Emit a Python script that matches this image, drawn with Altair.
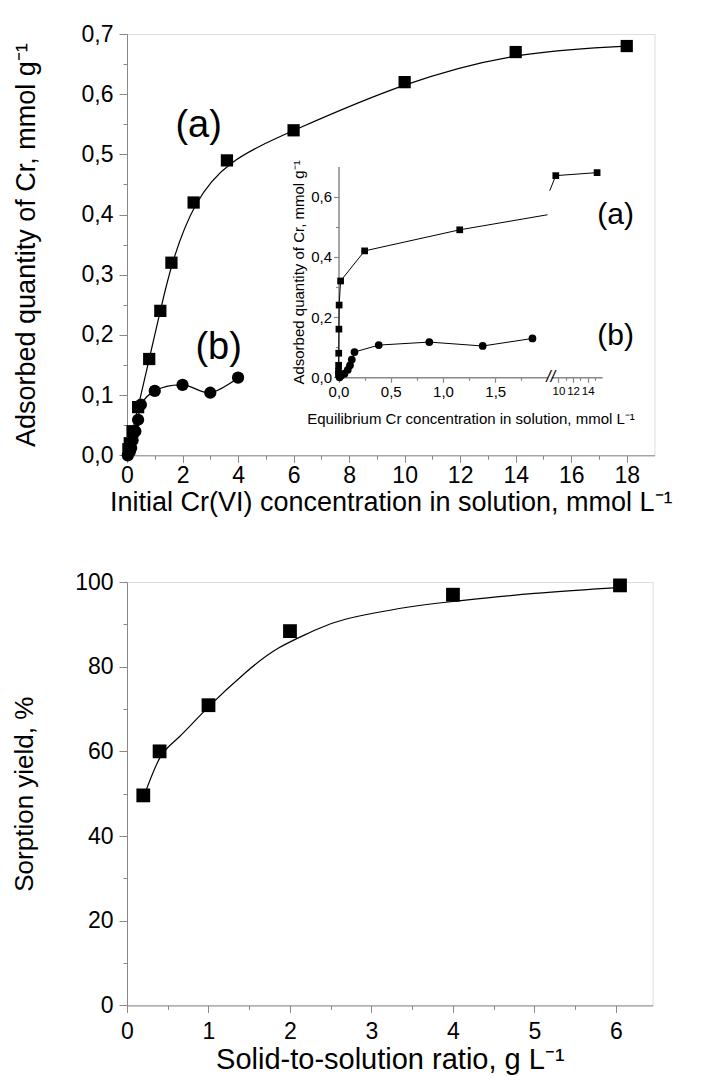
import altair as alt
import pandas as pd

FONT = "Liberation Sans"

# ---------------- Top panel: initial concentration (mmol/L) vs adsorbed quantity (mmol/g)
a_c0 = [0.05, 0.1, 0.2, 0.4, 0.8, 1.2, 1.6, 2.4, 3.6, 6.0, 10.0, 14.0, 18.0]
a_q = [0.01, 0.02, 0.04, 0.08, 0.16, 0.24, 0.32, 0.42, 0.49, 0.54, 0.62, 0.67, 0.68]
b_c0 = [0.03, 0.1, 0.15, 0.2, 0.3, 0.4, 0.5, 1.0, 2.0, 3.0, 4.0]
b_q = [0.0, 0.006, 0.012, 0.025, 0.04, 0.059, 0.084, 0.107, 0.117, 0.104, 0.129]

# ---------------- Inset: equilibrium concentration (mmol/L), same adsorbed quantities
ia_ce = [0.0, 0.0, 0.001, 0.002, 0.004, 0.006, 0.02, 0.25, 1.16, 2.0, 8.8, 9.63, 15.3]
ib_ce = [0.01, 0.025, 0.057, 0.089, 0.11, 0.127, 0.153, 0.385, 0.869, 1.38, 1.856]

# ---------------- Bottom panel: solid-to-solution ratio vs sorption yield
s_ratio = [0.2, 0.4, 1.0, 2.0, 4.0, 6.05]
s_yield = [49.6, 60.0, 70.9, 88.4, 97.0, 99.2]
fit_ratio = [0.2, 0.41, 0.64, 1.0, 1.46, 1.86, 2.27, 2.68, 3.46, 4.0, 5.0, 6.1]
fit_yield = [49.0, 58.7, 63.4, 70.5, 78.7, 84.4, 88.3, 91.2, 94.1, 95.4, 97.3, 98.8]

# ---------------- annotations
main_lbl_text = ["(a)", "(b)"]
main_lbl_x = [2.58, 3.3]
main_lbl_y = [0.547, 0.179]
inset_lbl_text = ["(a)", "(b)"]
inset_lbl_x = [17.6, 17.6]
inset_lbl_y = [0.40, 0.198]
break_text = ["//"]
break_x = [2.03]
break_y = [0.0]

# ---------------- tick values
top_x_ticks = list(range(0, 19))
top_y_ticks = [0.0, 0.05, 0.1, 0.15, 0.2, 0.25, 0.3, 0.35, 0.4, 0.45, 0.5, 0.55, 0.6, 0.65, 0.7]
inset_y_ticks = [0.0, 0.1, 0.2, 0.3, 0.4, 0.5, 0.6]
inset_x1_ticks = [0.0, 0.25, 0.5, 0.75, 1.0, 1.25, 1.5, 1.75]
inset_x2_ticks = [10, 11, 12, 13, 14, 15]
bot_x_ticks = [0.0, 0.5, 1.0, 1.5, 2.0, 2.5, 3.0, 3.5, 4.0, 4.5, 5.0, 5.5, 6.0]
bot_y_ticks = [0, 10, 20, 30, 40, 50, 60, 70, 80, 90, 100]

# ---------------- tables
df_a = pd.DataFrame({"x": a_c0, "y": a_q})
df_b = pd.DataFrame({"x": b_c0, "y": b_q})
df_ia = pd.DataFrame({"x": ia_ce, "y": a_q})
df_ib = pd.DataFrame({"x": ib_ce, "y": b_q})
df_lbl = pd.DataFrame({"x": main_lbl_x, "y": main_lbl_y, "t": main_lbl_text})
df_ilbl = pd.DataFrame({"x": inset_lbl_x, "y": inset_lbl_y, "t": inset_lbl_text})
df_brk = pd.DataFrame({"x": break_x, "y": break_y, "t": break_text})
df_s = pd.DataFrame({"x": s_ratio, "y": s_yield})
df_fit = pd.DataFrame({"x": fit_ratio, "y": fit_yield})


def major(test, big, small, **kw):
    return dict(
        tickSize={"condition": {"test": test, "value": big}, "value": small},
        labelOverlap=False,
        labelFlush=False,
        grid=False,
        titleFontWeight="normal",
        labelFont=FONT,
        titleFont=FONT,
        **kw,
    )


def comma(fmt):
    return "replace(format(datum.value, '%s'), '.', ',')" % fmt


# main top axes
t_main_x = "datum.value % 2 === 0"
main_x_axis = alt.Axis(
    values=top_x_ticks, orient="bottom",
    labelExpr=f"{t_main_x} ? format(datum.value, 'd') : ''",
    title="Initial Cr(VI) concentration in solution, mmol L⁻¹",
    labelFontSize=23, titleFontSize=27, labelPadding=2, titlePadding=2,
    **major(t_main_x, 7, 4),
)
t_main_y = "abs(datum.value * 10 - round(datum.value * 10)) < 1e-6"
main_y_axis = alt.Axis(
    values=top_y_ticks, orient="left",
    labelExpr=f"{t_main_y} ? {comma('.1f')} : ''",
    title="Adsorbed quantity of Cr, mmol g⁻¹",
    labelFontSize=23, titleFontSize=27, labelPadding=6, titlePadding=41,
    **major(t_main_y, 8, 4),
)
X_MAIN = alt.Scale(domain=[0, 19], nice=False, zero=False)
Y_MAIN = alt.Scale(domain=[0, 0.7], nice=False)
xm = alt.X("x:Q", scale=X_MAIN, axis=main_x_axis)
ym = alt.Y("y:Q", scale=Y_MAIN, axis=main_y_axis)

line_a = alt.Chart(df_a).mark_line(color="black", strokeWidth=1.2, interpolate="basis").encode(x=xm, y=ym)
pts_a = alt.Chart(df_a).mark_point(shape="square", filled=True, size=150, color="black", opacity=1).encode(x=xm, y=ym)
line_b = alt.Chart(df_b).mark_line(color="black", strokeWidth=1.2, interpolate="catmull-rom").encode(x=xm, y=ym)
pts_b = alt.Chart(df_b).mark_point(shape="circle", filled=True, size=150, color="black", opacity=1).encode(x=xm, y=ym)
lbl_main = alt.Chart(df_lbl).mark_text(font=FONT, fontSize=38, color="black", align="center", baseline="middle").encode(x=xm, y=ym, text="t:N")
lbl_inset = alt.Chart(df_ilbl).mark_text(font=FONT, fontSize=30, color="black", align="center", baseline="middle").encode(x=xm, y=ym, text="t:N")
main_layer = alt.layer(line_a, line_b, pts_a, pts_b, lbl_main, lbl_inset)

# inset scales (pixel ranges inside the top plot area)
PLOT_W, PLOT_H = 527.5, 421.3
IN_X1 = alt.Scale(domain=[0, 2], range=[211.5, 420.5], nice=False, zero=False)
IN_X2 = alt.Scale(domain=[9, 16], range=[424.2, 475.2], nice=False, zero=False)
IN_Y = alt.Scale(domain=[0, 0.7], range=[343.3, 132.6], nice=False)
IN_OFF_Y = 343.3 - PLOT_H

t_in_y = "abs(datum.value * 5 - round(datum.value * 5)) < 1e-6"
inset_y_axis = alt.Axis(
    values=inset_y_ticks, orient="left", offset=-211.5,
    labelExpr=f"{t_in_y} ? {comma('.1f')} : ''",
    title="Adsorbed quantity of Cr, mmol g⁻¹",
    labelFontSize=15, titleFontSize=15, labelPadding=2, titlePadding=4,
    domainWidth=1.5, tickWidth=1.2,
    **major(t_in_y, 5, 3),
)
t_in_x1 = "abs(datum.value * 2 - round(datum.value * 2)) < 1e-6"
inset_x1_axis = alt.Axis(
    values=inset_x1_ticks, orient="bottom", offset=IN_OFF_Y,
    labelExpr=f"{t_in_x1} ? {comma('.1f')} : ''",
    title="Equilibrium Cr concentration in solution, mmol L⁻¹",
    titleX=343.5,
    labelFontSize=15, titleFontSize=15, labelPadding=2, titlePadding=12,
    domainWidth=1.5, tickWidth=1.2,
    **major(t_in_x1, 5, 3),
)
t_in_x2 = "datum.value % 2 === 0"
inset_x2_axis = alt.Axis(
    values=inset_x2_ticks, orient="bottom", offset=IN_OFF_Y,
    labelExpr=f"{t_in_x2} ? format(datum.value, 'd') : ''",
    title=None,
    labelFontSize=11.5, labelPadding=3,
    domainWidth=1.5, tickWidth=1.2,
    **major(t_in_x2, 5, 3),
)

x1 = alt.X("x:Q", scale=IN_X1, axis=inset_x1_axis)
y1 = alt.Y("y:Q", scale=IN_Y, axis=inset_y_axis)
in1 = alt.layer(
    alt.Chart(df_ia).transform_filter("datum.x <= 2.0").mark_line(color="black", strokeWidth=1).encode(x=x1, y=y1),
    alt.Chart(df_ib).mark_line(color="black", strokeWidth=1).encode(x=x1, y=y1),
    alt.Chart(df_ia).transform_filter("datum.x < 1.9").mark_point(shape="square", filled=True, size=45, color="black", opacity=1).encode(x=x1, y=y1),
    alt.Chart(df_ib).mark_point(shape="circle", filled=True, size=60, color="black", opacity=1).encode(x=x1, y=y1),
    alt.Chart(df_brk).mark_text(font=FONT, fontSize=16, fontStyle="italic", color="black", align="center", baseline="middle").encode(x=x1, y=y1, text="t:N"),
)

x2 = alt.X("x:Q", scale=IN_X2, axis=inset_x2_axis)
y2 = alt.Y("y:Q", scale=IN_Y, axis=None)
in2 = alt.layer(
    alt.Chart(df_ia).transform_filter("datum.x >= 8.5").mark_line(color="black", strokeWidth=1).encode(x=x2, y=y2),
    alt.Chart(df_ia).transform_filter("datum.x >= 9").mark_point(shape="square", filled=True, size=45, color="black", opacity=1).encode(x=x2, y=y2),
)

top = alt.layer(main_layer, in1, in2).resolve_scale(x="independent", y="independent").properties(width=PLOT_W, height=PLOT_H)

# ---------------- bottom panel
t_bx = "abs(datum.value - round(datum.value)) < 1e-6"
bot_x_axis = alt.Axis(
    values=bot_x_ticks, orient="bottom",
    labelExpr=f"{t_bx} ? format(datum.value, 'd') : ''",
    title="Solid-to-solution ratio, g L⁻¹",
    labelFontSize=23, titleFontSize=29, labelPadding=8, titlePadding=2,
    **major(t_bx, 7, 4),
)
t_by = "datum.value % 20 === 0"
bot_y_axis = alt.Axis(
    values=bot_y_ticks, orient="left",
    labelExpr=f"{t_by} ? format(datum.value, 'd') : ''",
    title="Sorption yield, %",
    labelFontSize=23, titleFontSize=26, labelPadding=6, titlePadding=37,
    **major(t_by, 8, 4),
)
XB = alt.X("x:Q", scale=alt.Scale(domain=[0, 6.45], nice=False, zero=False), axis=bot_x_axis)
YB = alt.Y("y:Q", scale=alt.Scale(domain=[0, 100], nice=False), axis=bot_y_axis)
bottom = alt.layer(
    alt.Chart(df_fit).mark_line(color="black", strokeWidth=1.2, interpolate="natural").encode(x=XB, y=YB),
    alt.Chart(df_s).mark_point(shape="square", filled=True, size=190, color="black", opacity=1).encode(x=XB, y=YB),
).properties(width=525.6, height=423.4)

chart = (
    alt.vconcat(top, bottom, spacing=54)
    .properties(padding={"left": 3, "top": 14, "right": 5, "bottom": 0})
    .configure_view(stroke="black", strokeWidth=1.5)
    .configure_axis(
        domainColor="black", domainWidth=2, tickColor="black", tickWidth=1.5,
        labelColor="black", titleColor="black", labelFont=FONT, titleFont=FONT,
        titleFontWeight="normal",
    )
    .configure(background="white")
)

chart.save("out.html", embed_options={"renderer": "svg", "actions": False})
